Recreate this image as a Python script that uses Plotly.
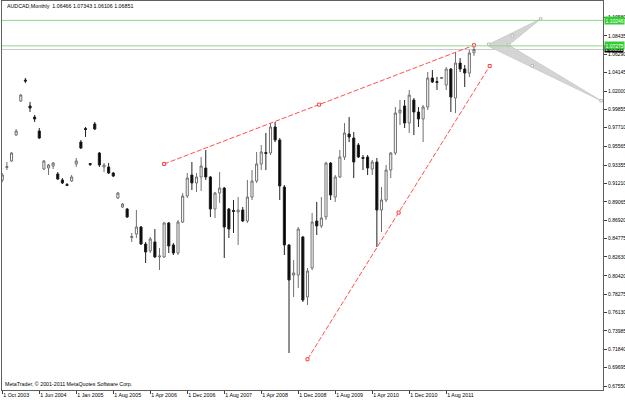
import plotly.graph_objects as go

# ---------------- data ----------------
tick_idx = [0, 8, 16, 24, 32, 40, 48, 56, 64, 72, 80, 88, 96]
tick_txt = ["1 Oct 2003", "1 Jun 2004", "1 Jan 2005", "1 Aug 2005", "1 Apr 2006",
            "1 Dec 2006", "1 Aug 2007", "1 Apr 2008", "1 Dec 2008", "1 Aug 2009",
            "1 Apr 2010", "1 Dec 2010", "1 Aug 2011"]

price_ticks = [0.67550, 0.69695, 0.71840, 0.73985, 0.76130, 0.78275, 0.80420,
               0.82630, 0.84775, 0.86920, 0.89065, 0.91210, 0.93355, 0.95565,
               0.97710, 0.99855, 1.02000, 1.04145, 1.06290, 1.08435, 1.10580]

opens = [0.9161, 0.9307, 0.9383, 0.9686, 1.0083, 1.0328, 1.0025, 0.9896, 0.9733, 0.9289,
         0.9301, 0.9324, 0.9231, 0.9161, 0.9108, 0.9149, 0.9348, 0.9604, 0.9762, 0.9353,
         0.9815, 0.9476, 0.9313, 0.9313, 0.9242, 0.8950, 0.8845, 0.8822, 0.8489, 0.8530,
         0.8612, 0.8413, 0.8332, 0.8437, 0.8262, 0.8262, 0.8659, 0.8402, 0.8308, 0.8670,
         0.8974, 0.9219, 0.9126, 0.9196, 0.9301, 0.9196, 0.8822, 0.9009, 0.9067, 0.8822,
         0.8805, 0.8787, 0.8810, 0.8682, 0.8962, 0.9149, 0.9348, 0.9482, 0.9476, 0.9780,
         0.9628, 0.9079, 0.8402, 0.8051, 0.8051, 0.8495, 0.7794, 0.8133, 0.8682, 0.8624,
         0.8729, 0.9359, 0.8962, 0.9196, 0.9429, 0.9698, 0.9651, 0.9569, 0.9424, 0.9429,
         0.9289, 0.9371, 0.8810, 0.8927, 0.9277, 0.9476, 0.9943, 1.0025, 0.9826, 1.0095,
         0.9955, 0.9873, 1.0013, 1.0352, 1.0310, 1.0346, 1.0270, 1.0457, 1.0118, 1.0527,
         1.0457, 1.0410, 1.06466]
highs = [0.9242, 0.9371, 0.9488, 0.9756, 1.0165, 1.0352, 1.0072, 0.9920, 0.9768, 0.9394,
         0.9348, 0.9371, 0.9254, 0.9184, 0.9126, 0.9219, 0.9418, 0.9628, 0.9780, 0.9359,
         0.9838, 0.9488, 0.9359, 0.9359, 0.9254, 0.9021, 0.8892, 0.8834, 0.8542, 0.8810,
         0.8624, 0.8437, 0.8495, 0.8588, 0.8367, 0.8670, 0.8670, 0.8425, 0.8694, 0.9009,
         0.9242, 0.9371, 0.9242, 0.9429, 0.9511, 0.9207, 0.9021, 0.9254, 0.9079, 0.8834,
         0.8927, 0.8962, 0.8845, 0.9161, 0.9277, 0.9488, 0.9569, 0.9710, 0.9826, 0.9838,
         0.9651, 0.9102, 0.8413, 0.8226, 0.8612, 0.8507, 0.8133, 0.8775, 0.8904, 0.8962,
         0.9371, 0.9371, 0.9219, 0.9511, 0.9826, 0.9896, 0.9721, 0.9593, 0.9453, 0.9453,
         0.9394, 0.9418, 0.9079, 0.9336, 0.9488, 1.0013, 1.0095, 1.0095, 1.0212, 1.0118,
         1.0013, 1.0037, 1.0422, 1.0445, 1.0364, 1.0364, 1.0480, 1.0469, 1.0655, 1.0585,
         1.0504, 1.0679, 1.07343]
lows = [0.9137, 0.9277, 0.9371, 0.9675, 1.0072, 1.0293, 0.9955, 0.9838, 0.9640, 0.9277,
        0.9219, 0.9289, 0.9161, 0.9114, 0.9091, 0.9137, 0.9313, 0.9523, 0.9663, 0.9324,
        0.9745, 0.9313, 0.9254, 0.9231, 0.9196, 0.8939, 0.8834, 0.8717, 0.8437, 0.8483,
        0.8402, 0.8191, 0.8308, 0.8250, 0.8110, 0.8250, 0.8308, 0.8285, 0.8285, 0.8659,
        0.8950, 0.9044, 0.9021, 0.9032, 0.9161, 0.8729, 0.8717, 0.8892, 0.8250, 0.8483,
        0.8542, 0.8402, 0.8670, 0.8659, 0.8927, 0.9126, 0.9277, 0.9277, 0.9453, 0.9604,
        0.8927, 0.8285, 0.7140, 0.7794, 0.7899, 0.7736, 0.7701, 0.8110, 0.8518, 0.8600,
        0.8694, 0.8927, 0.8904, 0.9184, 0.9394, 0.9604, 0.9184, 0.9418, 0.9277, 0.9219,
        0.9219, 0.8378, 0.8553, 0.8904, 0.9184, 0.9453, 0.9803, 0.9768, 0.9710, 0.9686,
        0.9780, 0.9604, 0.9978, 1.0293, 1.0212, 1.0340, 1.0212, 0.9955, 0.9943, 1.0422,
        1.0247, 1.0363, 1.06106]
closes = [0.9219, 0.9318, 0.9476, 0.9733, 1.0153, 1.0317, 1.0001, 0.9873, 0.9651, 0.9383,
          0.9336, 0.9359, 0.9172, 0.9126, 0.9096, 0.9196, 0.9383, 0.9534, 0.9750, 0.9342,
          0.9756, 0.9336, 0.9336, 0.9242, 0.9207, 0.9009, 0.8880, 0.8729, 0.8501, 0.8612,
          0.8413, 0.8320, 0.8472, 0.8262, 0.8273, 0.8659, 0.8390, 0.8308, 0.8670, 0.8974,
          0.9184, 0.9126, 0.9196, 0.9324, 0.9196, 0.8822, 0.9009, 0.9067, 0.8612, 0.8588,
          0.8793, 0.8810, 0.8682, 0.8962, 0.9149, 0.9348, 0.9488, 0.9470, 0.9780, 0.9628,
          0.9091, 0.8402, 0.7993, 0.8075, 0.8588, 0.7759, 0.8098, 0.8670, 0.8624, 0.8717,
          0.9359, 0.8985, 0.9196, 0.9429, 0.9710, 0.9663, 0.9371, 0.9429, 0.9412, 0.9301,
          0.9371, 0.8810, 0.8927, 0.9277, 0.9476, 0.9943, 0.9978, 0.9826, 1.0153, 0.9955,
          0.9873, 1.0013, 1.0352, 1.0305, 1.0299, 1.0358, 1.0457, 1.0130, 1.0527, 1.0457,
          1.0410, 1.0644, 1.06851]
bars = list(range(len(opens)))

# drawn objects (bar index, price)
upper_tl_x = [35, 102]
upper_tl_y = [0.9348, 1.07343]
lower_tl_x = [66, 105.4]
lower_tl_y = [0.7067, 1.0492]
chevron_x = [105.2, 116.4, 109.5, 129.5, 105.2]
chevron_y = [1.0745, 1.1041, 1.0737, 1.0087, 1.0722]
chevron_pts_x = [105.2, 116.4, 109.5, 129.5, 110.3, 114.6]
chevron_pts_y = [1.0745, 1.1041, 1.0737, 1.0087, 1.0846, 1.0495]
hlines = [1.10246, 1.07275]
bid = 1.06851

FONT = "Liberation Sans"
fig = go.Figure()

# chevron shape
fig.add_trace(go.Scatter(x=chevron_x + [chevron_x[0]], y=chevron_y + [chevron_y[0]],
                         mode="lines", fill="toself", fillcolor="#d4d4d4",
                         line=dict(color="#cccccc", width=1), hoverinfo="skip"))
fig.add_trace(go.Scatter(x=chevron_pts_x, y=chevron_pts_y, mode="markers",
                         marker=dict(symbol="square", size=2.5, color="white",
                                     line=dict(color="#bbbbbb", width=1)),
                         hoverinfo="skip"))

# candles
fig.add_trace(go.Candlestick(
    x=bars, open=opens, high=highs, low=lows, close=closes,
    increasing=dict(fillcolor="white", line=dict(color="#707070", width=1)),
    decreasing=dict(fillcolor="black", line=dict(color="#202020", width=1)),
    whiskerwidth=0, hoverinfo="skip"))

# trend lines
for tx, ty in [(upper_tl_x, upper_tl_y), (lower_tl_x, lower_tl_y)]:
    fig.add_trace(go.Scatter(x=tx, y=ty, mode="lines",
                             line=dict(color="#ff5050", width=1, dash="5px,2px"),
                             hoverinfo="skip"))
    fig.add_trace(go.Scatter(x=[tx[0], (tx[0] + tx[1]) / 2, tx[1]],
                             y=[ty[0], (ty[0] + ty[1]) / 2, ty[1]], mode="markers",
                             marker=dict(symbol="square", size=3, color="white",
                                         line=dict(color="#ff4040", width=1)),
                             hoverinfo="skip"))

shapes = []
for h in hlines:
    shapes.append(dict(type="line", xref="paper", x0=0, x1=1, yref="y", y0=h, y1=h,
                       line=dict(color="#8cd88c", width=1), layer="above"))
shapes.append(dict(type="line", xref="paper", x0=0, x1=1, yref="y", y0=bid, y1=bid,
                   line=dict(color="#c8c8c8", width=1), layer="below"))

annotations = [
    dict(text="AUDCAD,Monthly  1.06466 1.07343 1.06106 1.06851", xref="paper", yref="paper",
         x=0.005, y=0.987, xanchor="left", yanchor="middle", showarrow=False,
         font=dict(family=FONT, size=5.3, color="black")),
    dict(text="MetaTrader, © 2001-2011 MetaQuotes Software Corp.", xref="paper", yref="paper",
         x=0.002, y=0.015, xanchor="left", yanchor="middle", showarrow=False,
         font=dict(family=FONT, size=5.3, color="black")),
    dict(text="%.5f" % bid, xref="paper", x=1.002, xanchor="left", yref="y", y=bid,
         yanchor="middle", showarrow=False, bgcolor="black", borderpad=0,
         font=dict(family=FONT, size=5, color="white")),
]
for h in hlines:
    annotations.append(dict(text="%.5f" % h, xref="paper", x=1.002, xanchor="left", yref="y",
                            y=h, yanchor="middle", showarrow=False, bgcolor="#33cc33",
                            borderpad=0.5, font=dict(family=FONT, size=5, color="white")))

fig.update_layout(
    width=625, height=400, margin=dict(l=2, r=22, t=1, b=10, autoexpand=False),
    paper_bgcolor="white", plot_bgcolor="white", showlegend=False,
    boxgap=0.35, shapes=shapes, annotations=annotations,
    xaxis=dict(range=[-0.06, 129.9], showgrid=False, zeroline=False, showline=True,
               mirror=True, linecolor="#606060", linewidth=1, ticks="outside", ticklen=3,
               tickcolor="#404040", tickvals=tick_idx, ticktext=tick_txt, tickangle=0,
               ticklabelposition="outside right", rangeslider=dict(visible=False),
               automargin=False,
               tickfont=dict(family=FONT, size=5.3, color="black"), fixedrange=True),
    yaxis=dict(range=[0.67083, 1.12511], side="right", showgrid=False, zeroline=False,
               showline=True, mirror=True, linecolor="#606060", linewidth=1,
               ticks="outside", ticklen=3, tickcolor="#404040", tickvals=price_ticks,
               ticktext=["%.5f" % v for v in price_ticks], automargin=False,
               tickfont=dict(family=FONT, size=5, color="black"), fixedrange=True),
)

fig.write_html("out.html")
